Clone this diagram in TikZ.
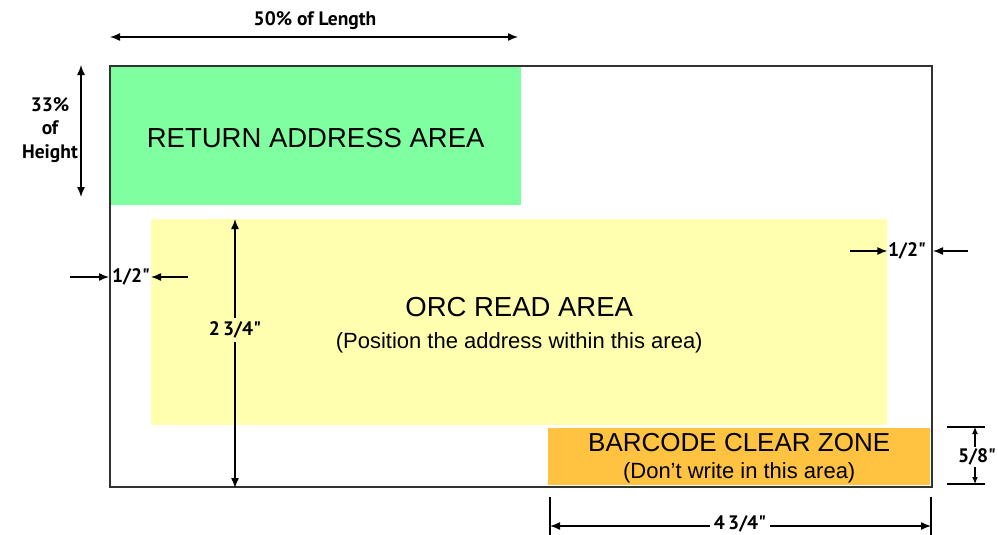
\documentclass[tikz,border=0pt]{standalone}
\usepackage{fontspec}
\setmainfont{Liberation Sans}
\newfontfamily\dimfont{PT Sans}[BoldFont={PT Sans Bold}]
\usetikzlibrary{arrows.meta}
\definecolor{retgreen}{RGB}{128,255,160}
\definecolor{orcyellow}{RGB}{255,255,175}
\definecolor{barorange}{RGB}{255,195,65}
\definecolor{envgray}{RGB}{50,50,50}

\begin{document}
\begin{tikzpicture}[x=1pt,y=-1pt,
  area/.style={anchor=north west, inner sep=0pt},
  areatext/.style={align=center, inner sep=0pt},
  dimarrow/.style={line width=1.4pt, -{Latex[length=10pt,width=8pt]}},
  dimboth/.style={line width=1.4pt, {Latex[length=10pt,width=8pt]}-{Latex[length=10pt,width=8pt]}},
  tick/.style={line width=1.2pt},
  dimlabel/.style={font=\dimfont\bfseries\fontsize{19.5}{23.5}\selectfont, inner sep=1.5pt, align=center}]
\useasboundingbox (0,0) rectangle (998,535);

% Flächen
\node[area, fill=retgreen, minimum width=411, minimum height=139] (ret) at (110,66) {};
\node[areatext, font=\fontsize{27.5}{30}\selectfont] (rettext) at ([yshift=-2pt]ret.center)
  {RETURN ADDRESS AREA};
\node[area, fill=orcyellow, minimum width=736, minimum height=206] (orc) at (151,219) {};
\node[areatext, font=\fontsize{22}{32}\selectfont] (orctext) at ([yshift=-3pt]orc.center)
  {{\fontsize{27.5}{30}\selectfont ORC READ AREA}\\
   (Position the address within this area)};
\node[area, fill=barorange, minimum width=382, minimum height=57] (bar) at (548,428) {};
\node[areatext, font=\fontsize{22}{27}\selectfont] (bartext) at ([yshift=-1pt]bar.center)
  {{\fontsize{26}{28}\selectfont BARCODE CLEAR ZONE}\\
   (Don't write in this area)};

% Umschlag
\node[draw=envgray, line width=2pt, anchor=north west, minimum width=822,
  minimum height=421, inner sep=0pt] (env) at (109,65) {};

% 50% der Länge
\coordinate (lenL) at (110,37);
\coordinate (lenR) at (518,37);
\draw[dimboth] (lenL) -- (lenR);
\node[dimlabel] (lenlab) at (315,21) {50\% of Length};

% 33% der Höhe
\coordinate (hgtT) at (81,65);
\coordinate (hgtB) at (81,197);
\draw[dimboth] (hgtT) -- (hgtB);
\node[dimlabel] (hgtlab) at (50,130) {33\%\\of\\Height};

% linker Rand 1/2"
\coordinate (lmA) at (70,277);
\coordinate (lmB) at (188,277);
\draw[dimarrow] (lmA) -- (env.west |- lmA);
\draw[dimarrow] (lmB) -- (orc.west |- lmB);
\node[dimlabel] (lmlab) at (131,277) {1/2"};

% rechter Rand 1/2"
\coordinate (rmA) at (850,251);
\coordinate (rmB) at (968,251);
\draw[dimarrow] (rmA) -- (orc.east |- rmA);
\draw[dimarrow] (rmB) -- (env.east |- rmB);
\node[dimlabel] (rmlab) at (907,251) {1/2"};

% Höhe Lesebereich 2 3/4"
\coordinate (orcdim) at (235,219);
\draw[dimboth] (orcdim) -- (orcdim |- env.south);
\node[dimlabel, fill=orcyellow, inner sep=4pt] (orclab) at (235,330) {2\,3/4"};

% Barcode-Höhe 5/8"
\coordinate (bhT) at (947,427);
\coordinate (bhB) at (947,484);
\draw[tick] (bhT) -- ++(38,0);
\draw[tick] (bhB) -- ++(38,0);
\draw[line width=1.2pt, {Latex[length=7pt,width=6pt]}-{Latex[length=7pt,width=6pt]}]
  ([xshift=28pt]bhT) -- ([xshift=28pt]bhB);
\node[dimlabel, fill=white] (bhlab) at (977,457) {5/8"};

% Barcode-Breite 4 3/4"
\coordinate (bwL) at (550,497);
\coordinate (bwR) at (931,497);
\draw[tick] (bwL) -- ++(0,38);
\draw[tick] (bwR) -- ++(0,38);
\draw[dimboth] ([yshift=-29pt]bwL) -- ([yshift=-29pt]bwR);
\node[dimlabel, fill=white, inner sep=4pt] (bwlab) at (740,524) {4\,3/4"};
\end{tikzpicture}
\end{document}
